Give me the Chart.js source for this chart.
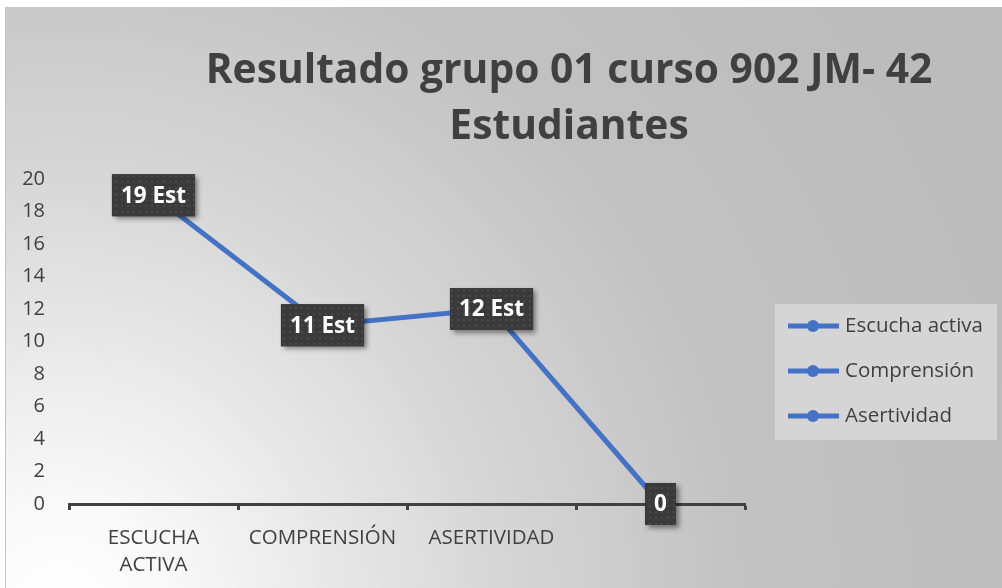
<!DOCTYPE html>
<html><head><meta charset="utf-8">
<script src="https://cdn.jsdelivr.net/npm/chart.js@4.4.0/dist/chart.umd.min.js"></script>
<style>html,body{margin:0;padding:0;background:#fff;overflow:hidden}canvas{display:block}</style>
</head><body>
<canvas id="c" width="1002" height="588"></canvas>
<script>
// ---- data ----
const titleLines = ['Resultado grupo 01 curso 902 JM- 42', 'Estudiantes'];
const categories = [['ESCUCHA', 'ACTIVA'], 'COMPRENSIÓN', 'ASERTIVIDAD', ''];
const values = [19, 11, 12, 0];
const pointLabels = ['19 Est', '11 Est', '12 Est', '0'];
const legendNames = ['Escucha activa', 'Comprensión', 'Asertividad'];
const yMin = 0, yMax = 20, yStep = 2;

// ---- style ----
const FONT = "'Open Sans', 'DejaVu Sans', sans-serif";
const TXT = '#404040';
const BLUE = '#4472C4';

function makeDots() {
  const p = document.createElement('canvas');
  p.width = 6; p.height = 6;
  const g = p.getContext('2d');
  g.fillStyle = '#3a3a3a'; g.fillRect(0, 0, 6, 6);
  g.fillStyle = '#4a4a4a'; g.fillRect(1, 1, 2, 2);
  return p;
}
const dotCanvas = makeDots();

const bgPlugin = {
  id: 'bg',
  beforeDraw(chart) {
    const ctx = chart.ctx;
    ctx.save();
    ctx.fillStyle = '#ffffff';
    ctx.fillRect(0, 0, chart.width, chart.height);
    const gr = ctx.createRadialGradient(60, 610, 0, 60, 610, 980);
    gr.addColorStop(0, '#ffffff');
    gr.addColorStop(0.12, '#f8f8f8');
    gr.addColorStop(0.45, '#d6d6d6');
    gr.addColorStop(0.7, '#c2c2c2');
    gr.addColorStop(1, '#bcbcbc');
    ctx.fillStyle = gr;
    ctx.fillRect(6, 7, chart.width - 6, chart.height - 7);
    ctx.fillStyle = '#c4c4c4';
    ctx.fillRect(5, 7, 1, chart.height - 7);
    ctx.restore();
  }
};

const titlePlugin = {
  id: 'title2',
  afterDraw(chart) {
    const ctx = chart.ctx;
    ctx.save();
    ctx.fillStyle = TXT;
    ctx.textAlign = 'center';
    ctx.textBaseline = 'middle';
    let size = 40;
    ctx.font = `bold ${size}px ${FONT}`;
    const w = ctx.measureText(titleLines[0]).width;
    size = size * 727 / w;
    ctx.font = `bold ${size}px ${FONT}`;
    ctx.fillText(titleLines[0], 569, 71);
    ctx.fillText(titleLines[1], 569, 127);
    ctx.restore();
  }
};

const labelPlugin = {
  id: 'ptLabels',
  afterDatasetsDraw(chart) {
    const ctx = chart.ctx;
    const meta = chart.getDatasetMeta(0);
    const pattern = ctx.createPattern(dotCanvas, 'repeat');
    ctx.save();
    ctx.font = `bold 22.5px ${FONT}`;
    meta.data.forEach((pt, i) => {
      const txt = pointLabels[i];
      const tw = ctx.measureText(txt).width;
      const bw = tw + 18, bh = 42;
      const x = pt.x - bw / 2, y = pt.y - bh / 2;
      ctx.save();
      ctx.shadowColor = 'rgba(0,0,0,0.45)';
      ctx.shadowBlur = 5;
      ctx.shadowOffsetX = 3;
      ctx.shadowOffsetY = 3;
      ctx.fillStyle = '#3a3a3a';
      ctx.fillRect(x, y, bw, bh);
      ctx.restore();
      ctx.fillStyle = pattern;
      ctx.fillRect(x, y, bw, bh);
      ctx.fillStyle = '#ffffff';
      ctx.textAlign = 'center';
      ctx.textBaseline = 'middle';
      ctx.fillText(txt, pt.x, pt.y + 1);
    });
    ctx.restore();
  }
};

const legendPlugin = {
  id: 'legendBox',
  afterDraw(chart) {
    const ctx = chart.ctx;
    ctx.save();
    ctx.fillStyle = '#d5d5d5';
    ctx.fillRect(775, 304, 222, 136);
    ctx.font = `20.5px ${FONT}`;
    ctx.textBaseline = 'middle';
    ctx.textAlign = 'left';
    legendNames.forEach((name, i) => {
      const y = 326 + i * 45;
      ctx.strokeStyle = BLUE;
      ctx.lineWidth = 5;
      ctx.beginPath();
      ctx.moveTo(788, y); ctx.lineTo(839, y);
      ctx.stroke();
      ctx.fillStyle = BLUE;
      ctx.beginPath();
      ctx.arc(813, y, 6, 0, Math.PI * 2);
      ctx.fill();
      ctx.fillStyle = TXT;
      ctx.fillText(name, 845, y);
    });
    ctx.restore();
  }
};

new Chart(document.getElementById('c'), {
  type: 'line',
  data: {
    labels: categories,
    datasets: [{
      label: legendNames[0],
      data: values,
      borderColor: BLUE,
      backgroundColor: BLUE,
      borderWidth: 5,
      pointRadius: 5,
      tension: 0,
      clip: false
    }]
  },
  options: {
    responsive: false,
    devicePixelRatio: 1,
    animation: false,
    layout: { padding: { left: 0, top: 179, right: 257, bottom: 0 } },
    plugins: { legend: { display: false }, title: { display: false }, tooltip: { enabled: false } },
    scales: {
      x: {
        offset: true,
        border: { display: true, color: TXT, width: 3 },
        grid: { display: true, offset: true, drawOnChartArea: false, drawTicks: true, tickLength: 6, tickColor: TXT, tickWidth: 3, color: TXT },
        ticks: { color: TXT, font: { family: FONT, size: 20.5, lineHeight: 1.32 }, padding: 15, maxRotation: 0, autoSkip: false },
        afterFit(s) { s.height = 84; }
      },
      y: {
        min: yMin, max: yMax,
        border: { display: false },
        grid: { display: false, drawTicks: false },
        ticks: { stepSize: yStep, color: TXT, font: { family: FONT, size: 20 }, padding: 24 },
        afterFit(s) { s.width = 69; }
      }
    }
  },
  plugins: [bgPlugin, titlePlugin, labelPlugin, legendPlugin]
});
</script>
</body></html>
